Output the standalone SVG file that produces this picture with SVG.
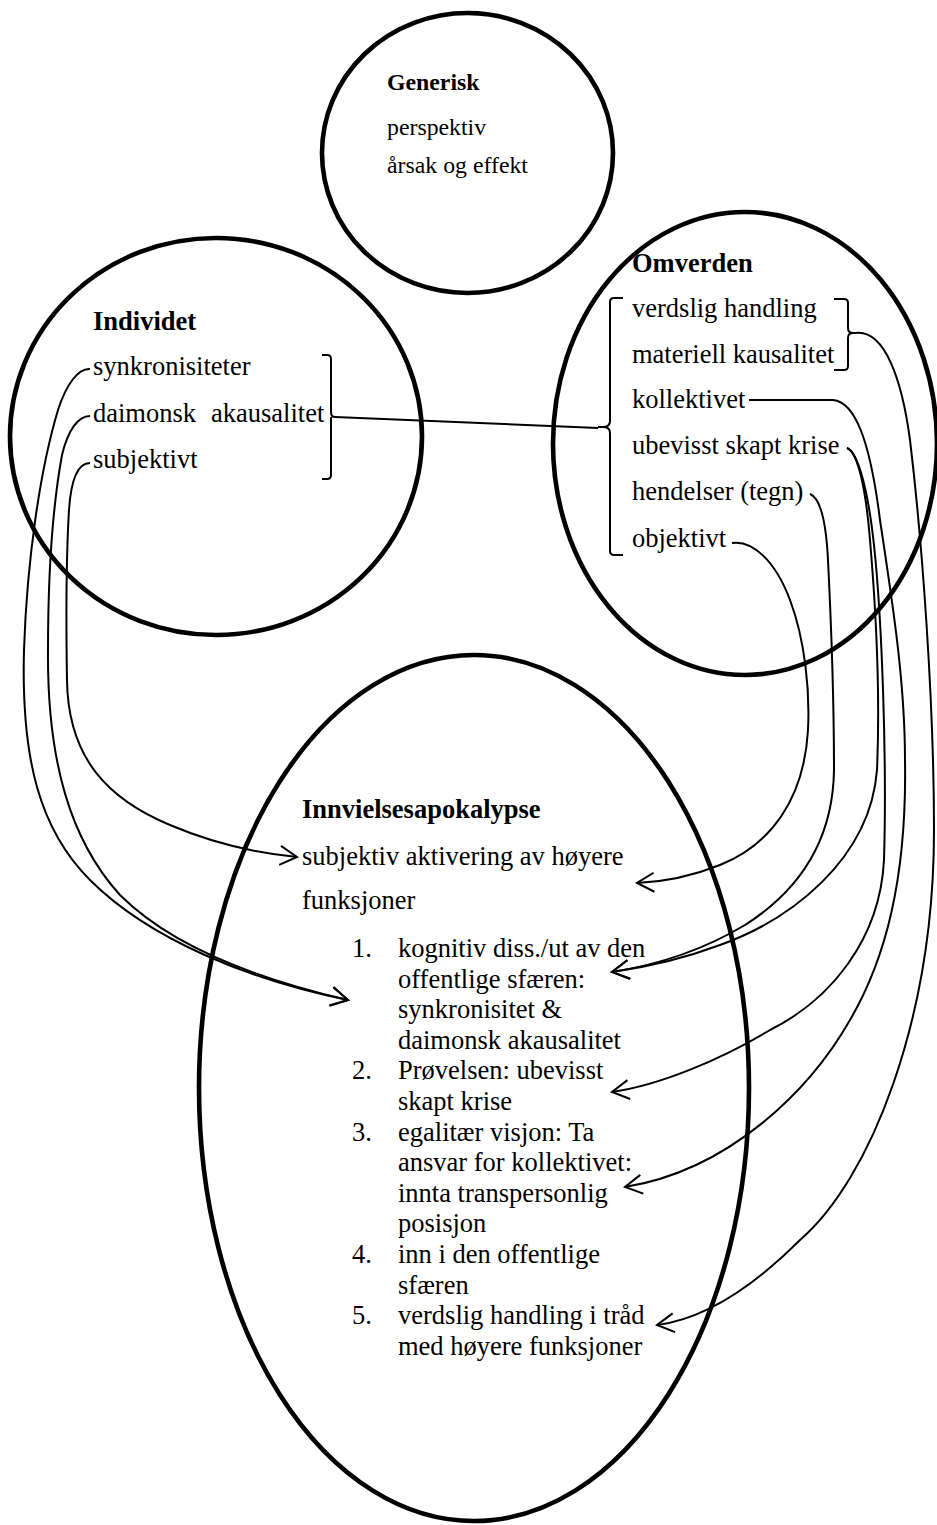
<svg xmlns="http://www.w3.org/2000/svg" width="937" height="1525" viewBox="0 0 937 1525">
<style>
.node{fill:none;stroke:#000;stroke-width:4.6}
.br{fill:none;stroke:#000;stroke-width:2}
.c{fill:none;stroke:#000;stroke-width:2}
text{font-family:"Liberation Serif","Times New Roman",serif;font-size:26.5px;fill:#000}
.b{font-weight:bold}
.s{font-size:23.8px}
</style>
<defs>
<marker id="ar" markerUnits="userSpaceOnUse" markerWidth="25" markerHeight="30" viewBox="-20 -15 25 30" refX="0" refY="0" orient="auto">
<path d="M -17,-9.5 L 0,0 L -17,9.5" fill="none" stroke="#000" stroke-width="2"/>
</marker>
</defs>
<rect x="0" y="0" width="937" height="1525" fill="#fff"/>

<g id="generisk">
<ellipse class="node" cx="467.5" cy="153" rx="145.5" ry="140"/>
<text class="s b" x="387" y="90">Generisk</text>
<text class="s" x="387" y="135">perspektiv</text>
<text class="s" x="387" y="173">årsak og effekt</text>
</g>

<g id="individet">
<ellipse class="node" cx="216" cy="436.5" rx="206" ry="198.5"/>
<text class="b" x="93" y="330">Individet</text>
<text x="93" y="375">synkronisiteter</text>
<text x="93" y="422">daimonsk<tspan x="211">akausalitet</tspan></text>
<text x="93" y="468">subjektivt</text>
<path class="br" d="M 322,355 L 327,355 Q 331,355 331,359 L 331,412 Q 331,417 335,417 M 331,417 Q 331,422 331,424 L 331,475 Q 331,479 327,479 L 322,479"/>
</g>

<g id="omverden">
<ellipse class="node" cx="745" cy="443.5" rx="192" ry="231.5"/>
<text class="b" x="632" y="272">Omverden</text>
<text x="632" y="317">verdslig handling</text>
<text x="632" y="363">materiell kausalitet</text>
<text x="632" y="408">kollektivet</text>
<text x="632" y="454">ubevisst skapt krise</text>
<text x="632" y="500">hendelser (tegn)</text>
<text x="632" y="547">objektivt</text>
<path class="br" d="M 623,298 L 614,298 Q 610,298 610,302 L 610,421 Q 610,427 603,427 L 598,427 M 603,427 Q 610,427 610,433 L 610,551 Q 610,555 614,555 L 623,555"/>
<path class="br" d="M 834,299 L 844,299 Q 848,299 848,303 L 848,328 Q 848,333 853,333 L 856,333 M 853,333 Q 848,333 848,338 L 848,366 Q 848,370 844,370 L 834,370"/>
</g>

<g id="innvielsesapokalypse">
<ellipse class="node" cx="474" cy="1088" rx="275" ry="433"/>
<text class="b" x="302" y="818">Innvielsesapokalypse</text>
<text x="302" y="865">subjektiv aktivering av høyere</text>
<text x="302" y="909">funksjoner</text>
<text x="352" y="957">1.</text>
<text x="398" y="957">kognitiv diss./ut av den</text>
<text x="398" y="987.6">offentlige sfæren:</text>
<text x="398" y="1018.2">synkronisitet &amp;</text>
<text x="398" y="1048.8">daimonsk akausalitet</text>
<text x="352" y="1079.4">2.</text>
<text x="398" y="1079.4">Prøvelsen: ubevisst</text>
<text x="398" y="1110">skapt krise</text>
<text x="352" y="1140.6">3.</text>
<text x="398" y="1140.6">egalitær visjon: Ta</text>
<text x="398" y="1171.2">ansvar for kollektivet:</text>
<text x="398" y="1201.8">innta transpersonlig</text>
<text x="398" y="1232.4">posisjon</text>
<text x="352" y="1263">4.</text>
<text x="398" y="1263">inn i den offentlige</text>
<text x="398" y="1293.6">sfæren</text>
<text x="352" y="1324.2">5.</text>
<text x="398" y="1324.2">verdslig handling i tråd</text>
<text x="398" y="1354.8">med høyere funksjoner</text>
</g>

<g id="connectors">
<path class="c" d="M 335,417 L 598,428"/>
<path class="c" marker-end="url(#ar)" d="M 90,369 C 78,368 66,385 58,410 C 40,470 27,560 24,650 C 21,760 40,830 90,880 C 150,940 250,980 348,1000"/>
<path class="c" marker-end="url(#ar)" d="M 90,416 C 78,416 68,430 62,455 C 52,510 48,580 48,650 C 47,760 70,840 120,895 C 165,940 240,975 348,1000"/>
<path class="c" marker-end="url(#ar)" d="M 90,463 C 78,463 71,480 69,510 C 66,560 66,620 67,680 C 68,760 110,800 170,825 C 210,842 255,853 297,857"/>
<path class="c" marker-end="url(#ar)" d="M 732,543 C 752,540 775,560 790,600 C 805,640 810,690 808,730 C 804,800 770,845 720,865 C 690,877 660,882 637,883"/>
<path class="c" marker-end="url(#ar)" d="M 810,494 C 820,498 826,520 828,560 C 832,640 834,700 834,770 C 833,840 800,890 745,925 C 700,952 650,966 612,972"/>
<path class="c" marker-end="url(#ar)" d="M 847,448 C 858,452 866,490 870,540 C 876,610 880,700 877,770 C 870,860 790,920 720,945 C 680,960 640,968 612,972"/>
<path class="c" marker-end="url(#ar)" d="M 847,448 C 858,452 868,490 874,545 C 882,620 887,760 884,860 C 880,940 830,1000 770,1030 C 720,1060 660,1085 612,1092"/>
<path class="c" marker-end="url(#ar)" d="M 749,400 L 833,400 C 855,402 870,440 880,520 C 892,600 905,680 905,760 C 907,880 885,960 850,1020 C 810,1090 730,1170 625,1187"/>
<path class="c" marker-end="url(#ar)" d="M 856,333 C 885,330 902,380 910,440 C 922,540 934,700 934,830 C 934,1020 870,1180 800,1240 C 760,1280 710,1318 657,1325"/>
</g>
</svg>
